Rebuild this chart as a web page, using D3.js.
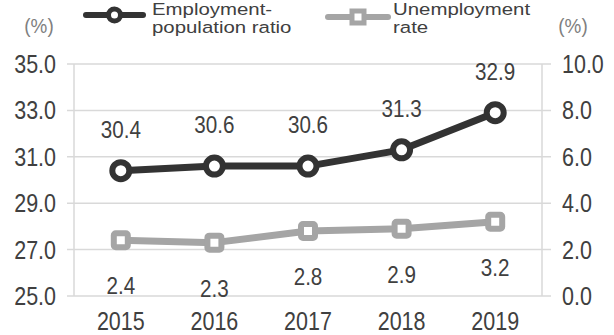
<!DOCTYPE html>
<html>
<head>
<meta charset="utf-8">
<script src="https://cdn.jsdelivr.net/npm/d3@7"></script>
<style>
  html, body { margin: 0; padding: 0; background: #fff; }
  svg { display: block; }
  text { font-family: "Liberation Sans", Arial, sans-serif; fill: #404040; }
</style>
</head>
<body>
<svg id="chart" width="614" height="335"></svg>
<script>
// Employment indicators, 2015–2019
const years = ["2015", "2016", "2017", "2018", "2019"];
const employmentRatio = [30.4, 30.6, 30.6, 31.3, 32.9];
const unemploymentRate = [2.4, 2.3, 2.8, 2.9, 3.2];
const leftTicks = [25, 27, 29, 31, 33, 35];
const rightTicks = [0, 2, 4, 6, 8, 10];
const seriesNames = [["Employment-", "population ratio"], ["Unemployment", "rate"]];

const svg = d3.select("#chart");
const margin = { left: 74, right: 542, top: 64, bottom: 296 };

const x = d3.scaleBand().domain(years).range([margin.left, margin.right]);
const yL = d3.scaleLinear().domain([25, 35]).range([margin.bottom, margin.top]);
const yR = d3.scaleLinear().domain([0, 10]).range([margin.bottom, margin.top]);
const cx = d => x(d) + x.bandwidth() / 2;

const gridColor = "#d9d9d9";
const darkColor = "#333333";
const lightColor = "#a5a5a5";

// text placed at (px, py) and squeezed/stretched horizontally by sx
function label(parent, px, py, str, size, anchor, sx) {
  return parent.append("text")
    .attr("transform", `translate(${px},${py}) scale(${sx},1)`)
    .attr("text-anchor", anchor).attr("font-size", size)
    .text(str);
}
const NUM_SX = 0.86;

// gridlines
svg.append("g").selectAll("line").data(leftTicks).join("line")
  .attr("x1", margin.left - 7).attr("x2", margin.right + 9)
  .attr("y1", d => yL(d)).attr("y2", d => yL(d))
  .attr("stroke", gridColor).attr("stroke-width", 1.5);

// vertical axis lines
svg.append("line").attr("x1", margin.left).attr("x2", margin.left)
  .attr("y1", margin.top).attr("y2", margin.bottom)
  .attr("stroke", gridColor).attr("stroke-width", 1.5);
svg.append("line").attr("x1", margin.right).attr("x2", margin.right)
  .attr("y1", margin.top).attr("y2", margin.bottom)
  .attr("stroke", gridColor).attr("stroke-width", 1.5);

// axis labels
const gl = svg.append("g");
leftTicks.forEach(d => label(gl, 56, yL(d) + 9, d.toFixed(1), 25, "end", NUM_SX));
const gr = svg.append("g");
rightTicks.forEach(d => label(gr, 562, yR(d) + 9, d.toFixed(1), 25, "start", NUM_SX));
const gx = svg.append("g");
years.forEach(d => label(gx, cx(d), 330, d, 25, "middle", NUM_SX));

// unit labels
label(svg, 39, 33, "(%)", 21, "middle", 0.9).style("fill", "#7f7f7f");
label(svg, 573, 33, "(%)", 21, "middle", 0.9).style("fill", "#7f7f7f");

// series lines
const lineL = d3.line().x((d, i) => cx(years[i])).y(d => yL(d));
const lineR = d3.line().x((d, i) => cx(years[i])).y(d => yR(d));

svg.append("path").datum(unemploymentRate).attr("d", lineR)
  .attr("fill", "none").attr("stroke", lightColor).attr("stroke-width", 7)
  .attr("stroke-linejoin", "round");
svg.append("g").selectAll("rect").data(unemploymentRate).join("rect")
  .attr("x", (d, i) => cx(years[i]) - 7).attr("y", d => yR(d) - 7)
  .attr("width", 14).attr("height", 14).attr("rx", 2)
  .attr("fill", "#fff").attr("stroke", lightColor).attr("stroke-width", 6);

svg.append("path").datum(employmentRatio).attr("d", lineL)
  .attr("fill", "none").attr("stroke", darkColor).attr("stroke-width", 7)
  .attr("stroke-linejoin", "round");
svg.append("g").selectAll("circle").data(employmentRatio).join("circle")
  .attr("cx", (d, i) => cx(years[i])).attr("cy", d => yL(d)).attr("r", 8.5)
  .attr("fill", "#fff").attr("stroke", darkColor).attr("stroke-width", 6);

// value labels
const gv = svg.append("g");
employmentRatio.forEach((d, i) => label(gv, cx(years[i]), yL(d) - 33, d.toFixed(1), 24, "middle", NUM_SX));
unemploymentRate.forEach((d, i) => label(gv, cx(years[i]), yR(d) + 54, d.toFixed(1), 24, "middle", NUM_SX));

// legend
const legend = [
  { x0: 86, x1: 143, y: 15, color: darkColor, shape: "circle", tx: 152 },
  { x0: 328, x1: 388, y: 17, color: lightColor, shape: "rect", tx: 393 }
];
legend.forEach((l, i) => {
  const g = svg.append("g");
  g.append("line").attr("x1", l.x0).attr("x2", l.x1).attr("y1", l.y).attr("y2", l.y)
    .attr("stroke", l.color).attr("stroke-width", 6).attr("stroke-linecap", "round");
  const mid = (l.x0 + l.x1) / 2;
  if (l.shape === "circle") {
    g.append("circle").attr("cx", mid).attr("cy", l.y).attr("r", 6)
      .attr("fill", "#fff").attr("stroke", l.color).attr("stroke-width", 5);
  } else {
    g.append("rect").attr("x", mid - 6).attr("y", l.y - 6).attr("width", 12).attr("height", 12)
      .attr("fill", "#fff").attr("stroke", l.color).attr("stroke-width", 5);
  }
  seriesNames[i].forEach((s, j) => label(g, l.tx, 14.5 + j * 18, s, 17, "start", 1.2));
});
</script>
</body>
</html>
